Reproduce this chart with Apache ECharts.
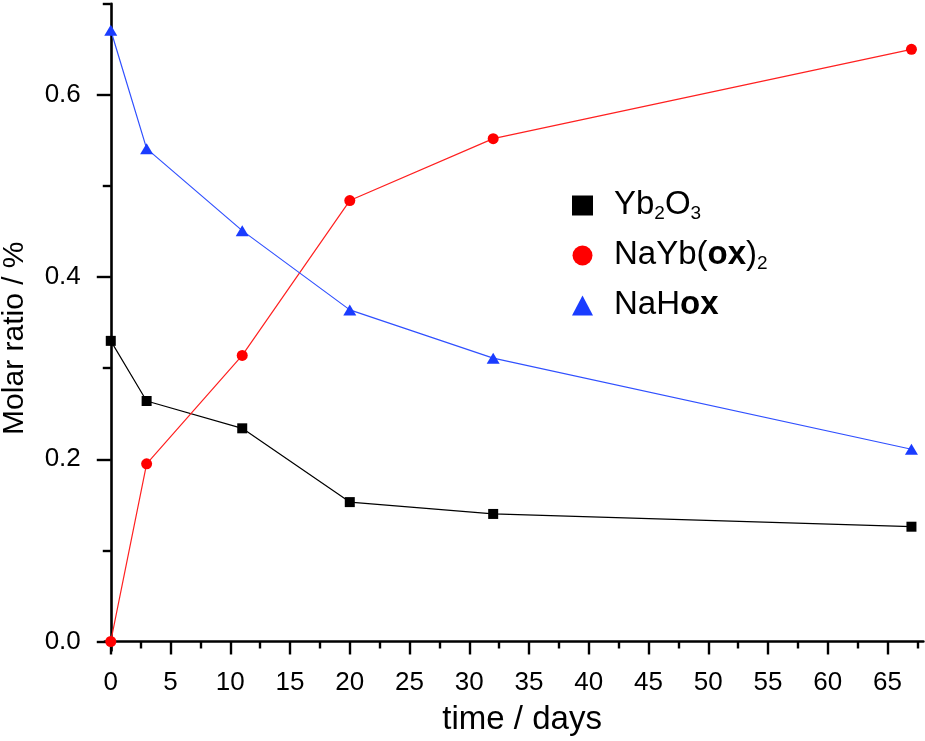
<!DOCTYPE html>
<html>
<head>
<meta charset="utf-8">
<script src="https://cdn.jsdelivr.net/npm/echarts@6/dist/echarts.min.js"></script>
<style>
html,body{margin:0;padding:0;background:#fff;}
#chart{width:925px;height:741px;}
</style>
</head>
<body>
<div id="chart"></div>
<script>
// Data
var days = [0, 3, 11, 20, 32, 67];
var yb2o3 = [0.330, 0.264, 0.234, 0.153, 0.140, 0.126];
var naybox2 = [0.000, 0.195, 0.314, 0.484, 0.552, 0.650];
var nahox = [0.671, 0.541, 0.451, 0.364, 0.311, 0.211];

var seriesNames = ['Yb2O3', 'NaYb(ox)2', 'NaHox'];
var xMajorTicks = [0, 5, 10, 15, 20, 25, 30, 35, 40, 45, 50, 55, 60, 65];
var xMinorTicks = [2.5, 7.5, 12.5, 17.5, 22.5, 27.5, 32.5, 37.5, 42.5, 47.5, 52.5, 57.5, 62.5, 67.5];
var yMajorTicks = [0, 0.2, 0.4, 0.6];
var yMinorTicks = [0.1, 0.3, 0.5, 0.7];

function pairs(xs, ys) { return xs.map(function (x, i) { return [x, ys[i]]; }); }

var FONT = 'Liberation Sans, Arial, sans-serif';
var chart = echarts.init(document.getElementById('chart'), null, {renderer: 'canvas'});

var grid = {left: 104.8, right: 1.6, top: 3.8, bottom: 90.4, containLabel: false, outerBoundsMode: 'none'};
var axisLine = {show: true, lineStyle: {color: '#000', width: 2.6}};

var legendText = {
  'Yb2O3': '{sp|}{n|Yb}{s|2}{n|O}{s|3}',
  'NaYb(ox)2': '{sp|}{n|NaYb(}{b|ox}{n|)}{s|2}',
  'NaHox': '{sp|}{n|NaH}{b|ox}'
};

var option = {
  animation: false,
  backgroundColor: '#fff',
  grid: grid,
  legend: {
    orient: 'vertical',
    left: 572,
    top: 188,
    padding: 0,
    itemWidth: 21,
    itemHeight: 20,
    itemGap: 15,
    data: [
      {name: 'Yb2O3', icon: 'rect'},
      {name: 'NaYb(ox)2', icon: 'circle'},
      {name: 'NaHox', icon: 'triangle'}
    ],
    formatter: function (name) { return legendText[name]; },
    textStyle: {
      fontFamily: FONT,
      color: '#000',
      rich: {
        sp: {width: 16, fontSize: 33, lineHeight: 35, verticalAlign: 'top'},
        n: {fontSize: 33, lineHeight: 35, fontFamily: FONT, color: '#000', verticalAlign: 'top'},
        b: {fontSize: 33, lineHeight: 35, fontFamily: FONT, color: '#000', fontWeight: 'bold', verticalAlign: 'top'},
        s: {fontSize: 19, lineHeight: 18, fontFamily: FONT, color: '#000', verticalAlign: 'bottom'}
      }
    }
  },
  xAxis: [{
    type: 'value',
    min: -0.5,
    max: 68,
    position: 'bottom',
    name: 'time / days',
    nameLocation: 'middle',
    nameGap: 53,
    nameTextStyle: {fontFamily: FONT, fontSize: 33, color: '#000', padding: [0, 0, 0, 16]},
    axisLine: axisLine,
    splitLine: {show: false},
    axisTick: {show: true, inside: false, length: 13, customValues: xMajorTicks, lineStyle: {color: '#000', width: 2.4}},
    axisLabel: {show: true, customValues: xMajorTicks, margin: 19, fontFamily: FONT, fontSize: 26, color: '#000'}
  }, {
    type: 'value',
    min: -0.5,
    max: 68,
    position: 'bottom',
    axisLine: {show: false},
    splitLine: {show: false},
    axisTick: {show: true, inside: false, length: 7, customValues: xMinorTicks, lineStyle: {color: '#000', width: 2.4}},
    axisLabel: {show: false}
  }],
  yAxis: [{
    type: 'value',
    min: -0.01,
    max: 0.70,
    position: 'left',
    name: 'Molar ratio / %',
    nameLocation: 'middle',
    nameRotate: 90,
    nameGap: 75,
    nameTextStyle: {fontFamily: FONT, fontSize: 30, color: '#000', padding: [0, 22, 0, 0]},
    axisLine: axisLine,
    splitLine: {show: false},
    axisTick: {show: true, inside: false, length: 14, customValues: yMajorTicks, lineStyle: {color: '#000', width: 2.4}},
    axisLabel: {show: true, customValues: yMajorTicks, margin: 24, fontFamily: FONT, fontSize: 26, color: '#000',
      formatter: function (v) { return v.toFixed(1); }}
  }, {
    type: 'value',
    min: -0.01,
    max: 0.70,
    position: 'left',
    axisLine: {show: false},
    splitLine: {show: false},
    axisTick: {show: true, inside: false, length: 8, customValues: yMinorTicks, lineStyle: {color: '#000', width: 2.4}},
    axisLabel: {show: false}
  }],
  series: [{
    name: 'Yb2O3',
    type: 'line',
    xAxisIndex: 0, yAxisIndex: 0,
    data: pairs(days, yb2o3),
    symbol: 'rect',
    symbolSize: 10,
    lineStyle: {color: '#000', width: 1.2},
    itemStyle: {color: '#000'},
    z: 3
  }, {
    name: 'NaYb(ox)2',
    type: 'line',
    xAxisIndex: 0, yAxisIndex: 0,
    data: pairs(days, naybox2),
    symbol: 'circle',
    symbolSize: 11,
    lineStyle: {color: '#ff2020', width: 1.2},
    itemStyle: {color: '#ff0000'},
    z: 4
  }, {
    name: 'NaHox',
    type: 'line',
    xAxisIndex: 0, yAxisIndex: 0,
    data: pairs(days, nahox),
    symbol: 'triangle',
    symbolSize: [13, 11],
    lineStyle: {color: '#3050ff', width: 1.2},
    itemStyle: {color: '#1a3cff'},
    z: 5
  }]
};
chart.setOption(option);
</script>
</body>
</html>
